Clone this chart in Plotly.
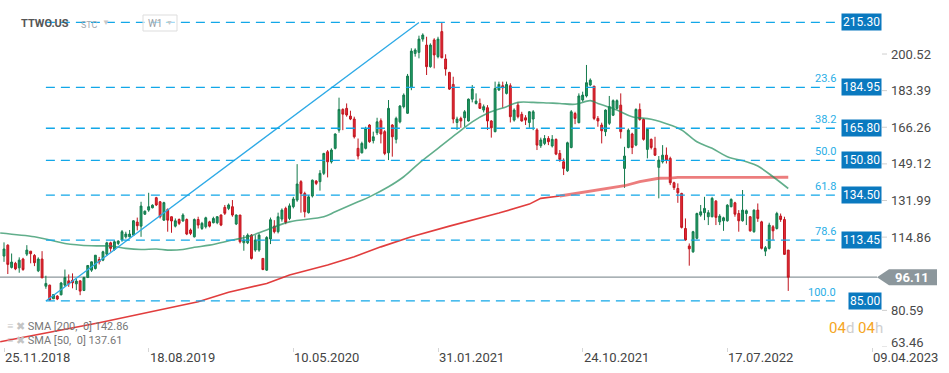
import plotly.graph_objects as go
import pandas as pd

# ---------------- data (weekly candles, TTWO.US) ----------------
START_WEEK = "2018-11-25"
opens = [
    106.0, 111.1, 100.7, 102.6, 100.5, 104.6, 106.9, 108.3, 106.3, 99.1,
    104.6, 91.9, 92.4, 86.0, 87.3, 87.9, 92.4, 94.4, 94.7, 93.0,
    94.4, 89.9, 96.0, 99.4, 100.2, 104.4, 104.1, 106.9, 112.2, 109.1,
    111.9, 113.5, 115.0, 115.0, 115.8, 121.9, 120.0, 125.6, 127.5, 128.6,
    133.3, 131.4, 122.8, 127.8, 124.4, 120.0, 123.1, 122.4, 123.1, 118.2,
    115.0, 123.1, 118.9, 119.7, 122.0, 121.6, 121.6, 125.2, 128.8, 128.3,
    129.1, 121.0, 125.2, 112.2, 112.2, 115.8, 108.8, 108.8, 104.9, 99.4,
    114.0, 120.0, 117.4, 123.3, 128.3, 123.6, 129.1, 132.2, 140.8, 135.3,
    126.3, 134.1, 141.1, 140.8, 144.7, 154.8, 150.1, 156.4, 164.9, 174.6,
    175.1, 171.5, 170.1, 156.4, 154.3, 156.4, 167.3, 160.0, 163.7, 169.3,
    164.2, 154.3, 167.3, 160.6, 168.8, 175.9, 172.8, 184.8, 200.8, 201.3,
    207.5, 204.7, 194.6, 207.1, 199.3, 211.0, 198.2, 191.9, 186.3, 168.5,
    170.4, 170.7, 169.2, 179.4, 177.4, 177.4, 174.3, 175.4, 169.2, 164.2,
    183.7, 185.7, 182.1, 185.7, 169.6, 176.6, 172.3, 170.7, 168.5, 170.1,
    165.0, 157.6, 158.7, 161.0, 157.5, 160.6, 154.0, 150.1, 145.9, 156.8,
    172.7, 168.4, 179.0, 180.9, 186.0, 185.5, 170.4, 167.3, 164.2, 168.1,
    171.9, 175.1, 176.6, 147.0, 156.8, 163.1, 157.9, 174.6, 169.9, 155.9,
    160.6, 156.4, 147.5, 150.1, 153.2, 151.7, 140.3, 137.6, 135.3, 118.9,
    110.7, 108.0, 114.3, 125.2, 126.3, 124.4, 124.4, 131.7, 122.0, 122.5,
    122.5, 129.1, 130.9, 125.9, 122.5, 125.9, 124.4, 117.4, 127.5, 122.0,
    108.3, 109.6, 119.7, 118.9, 124.7, 123.1, 108.8,
]
highs = [
    112.4, 111.5, 107.2, 103.3, 105.4, 105.2, 111.1, 108.3, 106.9, 105.4,
    108.3, 96.8, 92.6, 88.2, 87.7, 93.9, 99.7, 97.4, 97.9, 95.4,
    94.6, 96.3, 101.8, 103.4, 106.5, 105.6, 108.5, 112.7, 112.7, 113.4,
    113.4, 118.2, 117.4, 118.2, 122.8, 124.0, 131.4, 127.3, 135.6, 130.2,
    133.7, 131.7, 131.4, 128.3, 124.4, 123.6, 123.6, 126.0, 123.6, 118.9,
    123.6, 124.4, 122.0, 124.4, 122.5, 124.4, 124.7, 125.5, 129.9, 130.6,
    132.2, 125.5, 125.2, 115.8, 116.6, 116.3, 115.8, 116.6, 104.9, 115.3,
    124.0, 122.8, 126.3, 128.3, 129.1, 130.6, 133.7, 149.0, 141.5, 136.1,
    134.5, 141.8, 141.5, 146.2, 154.3, 155.6, 156.4, 163.4, 180.1, 175.1,
    177.4, 174.0, 171.2, 161.0, 159.5, 166.5, 167.7, 164.2, 170.7, 170.4,
    164.9, 179.0, 167.7, 171.2, 176.6, 182.1, 191.2, 203.2, 203.2, 209.1,
    210.2, 208.6, 205.5, 207.9, 208.6, 215.3, 200.4, 192.2, 189.9, 171.2,
    171.2, 174.3, 179.7, 186.0, 182.1, 179.7, 176.9, 176.6, 169.6, 187.6,
    187.6, 187.6, 187.6, 186.8, 175.1, 177.9, 173.5, 171.9, 173.8, 174.3,
    165.8, 161.4, 162.6, 162.1, 162.6, 161.0, 155.6, 151.7, 159.5, 174.3,
    173.5, 182.1, 182.9, 195.4, 189.1, 185.5, 171.5, 168.4, 174.6, 180.9,
    179.3, 179.3, 182.1, 157.1, 165.7, 163.7, 175.1, 177.4, 170.4, 165.7,
    161.0, 161.8, 152.8, 157.9, 156.8, 152.5, 140.8, 140.0, 135.6, 123.6,
    111.9, 117.8, 126.3, 129.9, 133.7, 127.5, 133.7, 132.2, 125.6, 124.4,
    130.3, 133.0, 131.4, 127.5, 136.9, 127.8, 124.7, 127.8, 130.6, 122.5,
    110.7, 121.6, 120.5, 126.7, 125.9, 124.4, 108.8,
]
lows = [
    103.3, 97.6, 100.2, 99.4, 98.2, 99.1, 106.0, 102.6, 101.3, 98.5,
    95.8, 90.7, 85.1, 85.9, 85.4, 87.6, 91.6, 91.6, 90.9, 90.1,
    87.7, 89.6, 95.7, 98.6, 99.7, 102.1, 103.6, 106.0, 108.0, 108.5,
    111.1, 112.7, 114.2, 114.7, 115.5, 118.0, 115.0, 125.2, 126.7, 128.3,
    129.4, 123.6, 122.5, 117.4, 116.9, 119.4, 120.5, 122.1, 115.8, 115.8,
    114.7, 118.9, 118.2, 118.9, 119.4, 121.3, 120.9, 120.0, 125.2, 127.5,
    124.4, 120.5, 111.9, 108.5, 111.6, 104.4, 108.0, 108.0, 99.4, 99.1,
    111.6, 116.6, 116.6, 122.1, 120.9, 122.8, 128.3, 131.4, 126.3, 124.1,
    125.9, 133.4, 139.2, 136.6, 143.9, 142.8, 149.3, 155.9, 163.7, 164.9,
    171.2, 169.6, 161.0, 151.2, 154.0, 155.9, 159.0, 158.7, 162.6, 158.7,
    153.2, 150.9, 152.5, 158.7, 168.1, 175.1, 172.5, 183.6, 199.3, 198.5,
    206.3, 190.7, 194.1, 193.8, 198.5, 198.5, 190.4, 183.7, 168.1, 165.0,
    166.0, 166.5, 168.9, 177.9, 176.9, 174.8, 173.2, 165.0, 161.4, 163.9,
    183.2, 175.4, 181.6, 168.5, 168.9, 170.4, 168.9, 167.3, 166.0, 164.9,
    155.6, 156.6, 157.9, 157.9, 156.8, 153.2, 150.1, 143.9, 145.4, 156.4,
    167.7, 168.1, 178.2, 180.2, 185.5, 169.6, 166.5, 158.7, 162.1, 167.3,
    171.5, 174.6, 161.0, 137.9, 156.4, 153.7, 157.4, 169.3, 160.0, 151.7,
    155.9, 152.8, 133.0, 149.3, 149.3, 139.2, 136.9, 130.9, 118.9, 113.2,
    101.5, 107.5, 113.8, 124.4, 122.8, 120.5, 124.1, 120.5, 120.5, 117.8,
    122.1, 128.8, 124.4, 117.4, 122.1, 120.5, 117.4, 116.9, 122.0, 109.1,
    106.0, 109.1, 113.5, 118.4, 122.0, 106.5, 89.7,
]
closes = [
    109.3, 102.1, 103.2, 100.0, 104.1, 99.7, 108.8, 107.1, 102.9, 104.6,
    95.8, 93.2, 85.4, 88.0, 85.9, 93.4, 96.0, 93.0, 93.5, 94.3,
    89.6, 96.0, 101.6, 103.3, 106.4, 103.3, 108.0, 112.2, 109.6, 112.7,
    113.0, 117.4, 116.3, 116.3, 122.5, 120.2, 129.4, 127.0, 129.1, 129.8,
    129.9, 124.4, 131.0, 122.8, 122.4, 122.5, 121.3, 125.2, 116.3, 116.6,
    123.1, 120.5, 121.3, 123.9, 120.0, 123.6, 124.4, 120.5, 126.0, 129.9,
    125.2, 125.2, 112.7, 113.5, 115.8, 104.9, 113.5, 115.8, 99.7, 114.7,
    123.0, 117.4, 124.4, 127.5, 121.7, 129.5, 132.7, 139.7, 135.3, 126.7,
    133.7, 141.5, 140.0, 144.7, 154.0, 150.1, 155.6, 163.1, 174.6, 172.4,
    172.0, 170.1, 161.8, 152.8, 158.7, 165.7, 159.5, 161.8, 168.8, 163.1,
    154.0, 175.1, 161.8, 170.4, 176.2, 181.3, 190.2, 201.9, 202.4, 207.5,
    209.4, 194.6, 204.7, 200.1, 207.5, 198.8, 193.5, 184.1, 170.1, 170.1,
    169.2, 173.5, 179.4, 184.1, 178.5, 175.1, 175.9, 169.2, 166.0, 184.4,
    186.3, 184.7, 186.3, 171.2, 174.3, 171.2, 169.2, 169.6, 173.5, 173.5,
    157.9, 160.3, 161.0, 159.5, 160.6, 153.7, 151.2, 147.0, 159.0, 173.5,
    170.4, 180.9, 181.3, 187.1, 188.3, 170.4, 169.2, 164.6, 174.3, 175.9,
    178.7, 178.7, 164.2, 152.8, 164.9, 156.8, 174.6, 169.9, 160.6, 165.3,
    156.8, 153.2, 150.9, 153.2, 150.9, 140.3, 138.0, 135.6, 119.4, 113.5,
    109.4, 117.4, 125.9, 126.7, 128.3, 126.3, 133.0, 124.1, 124.7, 123.9,
    129.8, 132.5, 125.6, 122.5, 127.5, 127.2, 117.8, 127.5, 123.6, 109.6,
    109.9, 120.5, 117.8, 125.9, 123.1, 106.8, 96.11,
]

# SMA lines (week offset from START_WEEK, value)
sma50_weeks = [-1, 8, 12, 16, 23, 28, 32, 36, 40, 43, 47, 50, 54, 60, 64, 69, 75, 84, 87, 93,
               96, 101, 105, 109, 114, 119, 123, 127, 132, 135, 139, 143, 146, 150, 154, 156,
               161, 165, 170, 175, 178, 182, 186, 190, 195, 198, 202, 206]
sma50_vals = [116.8, 115.0, 113.5, 111.9, 110.8, 110.7, 109.6, 109.1, 109.3, 108.8, 109.1, 110.1,
              111.1, 113.5, 115.0, 118.2, 122.0, 124.4, 126.7, 131.4, 133.7, 138.4, 143.1, 149.4,
              156.4, 163.4, 168.8, 172.8, 175.9, 177.9, 177.9, 177.6, 177.4, 177.0, 178.7, 177.4,
              174.3, 171.2, 170.0, 167.3, 165.0, 159.5, 156.4, 152.5, 150.1, 148.1, 143.1, 137.61]
sma200_weeks = [-1, 25, 51, 59, 69, 75, 85, 92, 99, 107, 117, 130, 138, 141, 146, 150, 158,
                163, 167, 172, 175, 177, 206]
sma200_vals = [65.9, 74.8, 84.6, 89.1, 93.2, 97.1, 101.8, 105.7, 110.3, 115.0, 120.0, 126.1,
               130.3, 133.0, 134.1, 135.3, 137.7, 138.9, 140.8, 142.4, 142.5, 142.8, 142.86]

fib_levels = [215.30, 184.95, 165.80, 150.80, 134.50, 113.45, 85.00]
fib_pct = ["0.0", "23.6", "38.2", "50.0", "61.8", "78.6", "100.0"]
axis_ticks = [200.52, 183.39, 166.26, 149.12, 131.99, 114.86, 80.59, 63.46]
date_ticks = ["2018-11-25", "2019-08-18", "2020-05-10", "2021-01-31", "2021-10-24",
              "2022-07-17", "2023-04-09"]
date_labels = ["25.11.2018", "18.08.2019", "10.05.2020", "31.01.2021", "24.10.2021",
               "17.07.2022", "09.04.2023"]
trend_weeks = [11, 109]           # trend line from the 85.00 low to the 215.30 high
trend_vals = [85.00, 215.30]
FIB_START_WEEK = 11
FIB_END = "2023-02-05"

# ---------------- figure ----------------
W, H = 949, 373
MB = 26
PH = H - MB
Y0, Y1 = 63.46, 225.79
X0, X1 = "2018-11-17 15:30", "2023-08-28 14:00"
FONT = "Roboto"

start = pd.Timestamp(START_WEEK)
dates = [start + pd.Timedelta(weeks=i) for i in range(len(closes))]
wk = lambda w: start + pd.Timedelta(weeks=w)

GREEN_LINE, GREEN_FILL = "#137a4c", "#1f9c65"
RED_LINE, RED_FILL = "#c0141d", "#e52b37"
FIB_BLUE = "#12a7e8"
BOX_BLUE = "#0a79bf"

fig = go.Figure()
fig.add_trace(go.Candlestick(
    x=dates, open=opens, high=highs, low=lows, close=closes,
    increasing=dict(line=dict(color=GREEN_LINE, width=1), fillcolor=GREEN_FILL),
    decreasing=dict(line=dict(color=RED_LINE, width=1), fillcolor=RED_FILL),
    whiskerwidth=0, showlegend=False, hoverinfo="skip",
))
# SMA 200: thin dark red in the early part, thicker/lighter in the recent part
split = sma200_weeks.index(146)
fig.add_trace(go.Scatter(
    x=[wk(w) for w in sma200_weeks[:split + 1]], y=sma200_vals[:split + 1], mode="lines",
    line=dict(color="rgba(222,40,40,0.9)", width=1.6), showlegend=False, hoverinfo="skip"))
fig.add_trace(go.Scatter(
    x=[wk(w) for w in sma200_weeks[split:]], y=sma200_vals[split:], mode="lines",
    line=dict(color="rgba(228,70,70,0.7)", width=2.8), showlegend=False, hoverinfo="skip"))
fig.add_trace(go.Scatter(
    x=[wk(w) for w in sma50_weeks], y=sma50_vals, mode="lines",
    line=dict(color="rgba(30,140,90,0.7)", width=1.6, shape="spline"), showlegend=False,
    hoverinfo="skip"))
fig.add_trace(go.Scatter(
    x=[wk(w) for w in trend_weeks], y=trend_vals, mode="lines",
    line=dict(color="#2eaae6", width=1.3), showlegend=False, hoverinfo="skip"))

shapes = []
ann = []

def ypaper(v):
    return (v - Y0) / (Y1 - Y0)

last = closes[-1]
# current price line
shapes.append(dict(type="line", xref="paper", yref="y", x0=0, x1=877 / W, y0=last, y1=last,
                   line=dict(color="#8c979c", width=1.2), layer="below"))

for lvl, pct in zip(fib_levels, fib_pct):
    shapes.append(dict(type="line", xref="x", yref="y", x0=wk(FIB_START_WEEK), x1=FIB_END,
                       y0=lvl, y1=lvl, line=dict(color=FIB_BLUE, width=1.3, dash="9px,6px")))
    if pct != "0.0":
        ann.append(dict(xref="x", yref="y", x=FIB_END, y=lvl, xanchor="right", yanchor="bottom",
                        text=pct, showarrow=False, yshift=0,
                        font=dict(family=FONT, size=11, color="#29aee6")))
    ann.append(dict(xref="paper", yref="y", x=882 / W, y=lvl, xanchor="right", yanchor="middle",
                    text=f"{lvl:.2f}", showarrow=False, bgcolor=BOX_BLUE, borderpad=1,
                    font=dict(family=FONT, size=12, color="white")))

for t in axis_ticks:
    shapes.append(dict(type="line", xref="paper", yref="y", x0=882 / W, x1=887 / W, y0=t, y1=t,
                       line=dict(color="#cfcfcf", width=1)))
    ann.append(dict(xref="paper", yref="y", x=889 / W, y=t, xanchor="left", yanchor="middle",
                    text=f"{t:.2f}", showarrow=False, yshift=5 if t == Y0 else 0,
                    font=dict(family=FONT, size=13, color="#4a4a4a")))

# current price arrow label
yc = ypaper(last)
hh = 8 / PH
xa, xb, xc = 877 / W, 889 / W, 937 / W
shapes.append(dict(type="path", xref="paper", yref="paper",
                   path=f"M {xa},{yc} L {xb},{yc+hh} L {xc},{yc+hh} L {xc},{yc-hh} L {xb},{yc-hh} Z",
                   fillcolor="#8c979c", line=dict(width=0)))
ann.append(dict(xref="paper", yref="y", x=912 / W, y=last, xanchor="center", yanchor="middle",
                text=f"<b>{last:.2f}</b>", showarrow=False,
                font=dict(family=FONT, size=13, color="white")))

# date labels
for d, lab in zip(date_ticks, date_labels):
    ann.append(dict(xref="x", yref="paper", x=d, y=0, xanchor="left", yanchor="top",
                    text=lab, showarrow=False, yshift=-1, xshift=-1,
                    font=dict(family=FONT, size=13, color="#444")))

# header
ann.append(dict(xref="paper", yref="paper", x=19 / W, y=1 - 24 / PH, xanchor="left",
                yanchor="middle", text="<b>TTWO.US</b>", showarrow=False,
                font=dict(family=FONT, size=11, color="#555")))
ann.append(dict(xref="paper", yref="paper", x=79 / W, y=1 - 24.5 / PH, xanchor="left",
                yanchor="middle", text="STC", showarrow=False,
                font=dict(family=FONT, size=9, color="#a0a8b0")))
ann.append(dict(xref="paper", yref="paper", x=100 / W, y=1 - 22 / PH, xanchor="left",
                yanchor="middle", text="▼", showarrow=False,
                font=dict(family=FONT, size=8, color="#c8c8c8")))
shapes.append(dict(type="rect", xref="paper", yref="paper", x0=143 / W, x1=177 / W,
                   y0=1 - 31 / PH, y1=1 - 15 / PH, line=dict(color="#dddddd", width=1),
                   fillcolor="rgba(255,255,255,0.6)"))
ann.append(dict(xref="paper", yref="paper", x=146 / W, y=1 - 23.5 / PH, xanchor="left",
                yanchor="middle", text="W1", showarrow=False,
                font=dict(family=FONT, size=10, color="#9aa0a6")))
ann.append(dict(xref="paper", yref="paper", x=164 / W, y=1 - 23 / PH, xanchor="left",
                yanchor="middle", text="▼", showarrow=False,
                font=dict(family=FONT, size=7, color="#c8c8c8")))

# SMA legend
ann.append(dict(xref="paper", yref="paper", x=5 / W, y=1 - 326 / PH, xanchor="left",
                yanchor="middle", text="<span style='color:#c4c4c4'>≡ ✖</span> SMA [200,  0] 142.86",
                showarrow=False, font=dict(family=FONT, size=11, color="#777")))
ann.append(dict(xref="paper", yref="paper", x=5 / W, y=1 - 340 / PH, xanchor="left",
                yanchor="middle", text="<span style='color:#c4c4c4'>≡ ✖</span> SMA [50,  0] 137.61",
                showarrow=False, font=dict(family=FONT, size=11, color="#777")))

# countdown
ann.append(dict(xref="paper", yref="paper", x=827 / W, y=1 - 328 / PH, xanchor="left",
                yanchor="middle",
                text="<span style='color:#f5a623'>04</span><span style='color:#cfcfcf'>d</span> "
                     "<span style='color:#f5a623'>04</span><span style='color:#cfcfcf'>h</span>",
                showarrow=False, font=dict(family=FONT, size=15)))

fig.update_layout(
    width=W, height=H,
    margin=dict(l=0, r=0, t=0, b=MB),
    paper_bgcolor="white", plot_bgcolor="white",
    shapes=shapes, annotations=ann,
    xaxis=dict(type="date", range=[X0, X1], rangeslider=dict(visible=False),
               showgrid=False, zeroline=False, showline=False,
               tickvals=date_ticks, showticklabels=False, ticks="outside", ticklen=4,
               tickcolor="#d6d6d6"),
    yaxis=dict(range=[Y0, Y1], showgrid=False, zeroline=False, showline=False,
               showticklabels=False, ticks=""),
    font=dict(family=FONT),
    showlegend=False,
    hovermode=False,
)

fig.write_html("out.html", config={"displayModeBar": False, "staticPlot": True},
               post_script="document.body.style.margin='0';document.body.style.padding='0';")
